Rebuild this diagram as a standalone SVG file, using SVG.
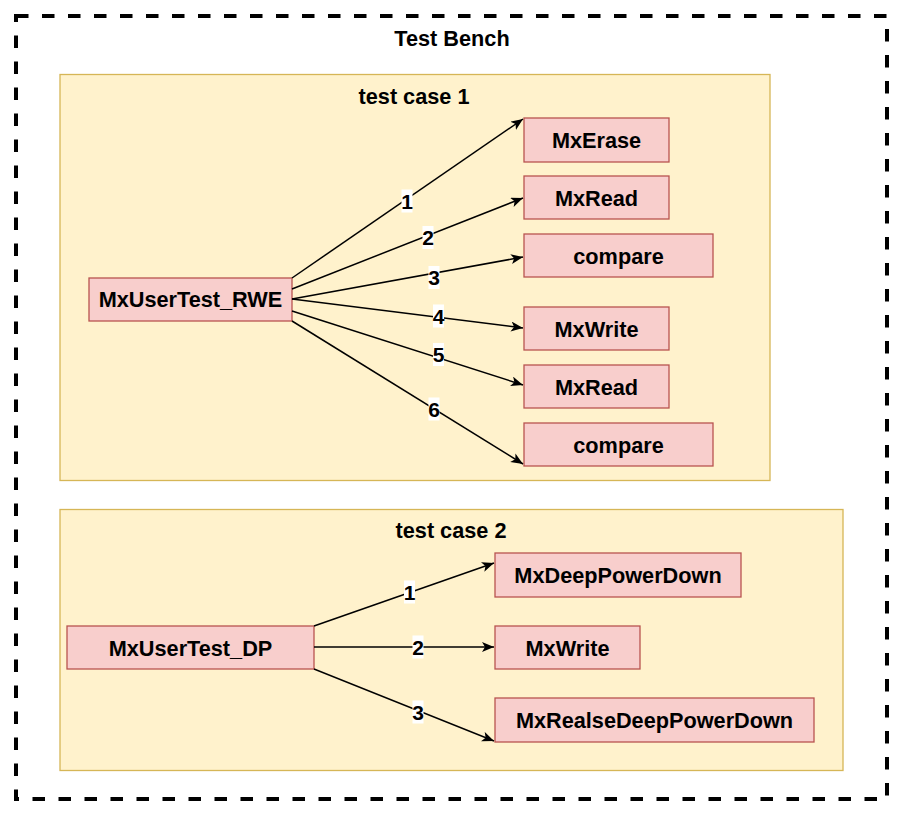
<svg xmlns="http://www.w3.org/2000/svg" width="904" height="817" viewBox="0 0 904 817">
<style>
text{font-family:"Liberation Sans",Arial,sans-serif;font-weight:bold;font-size:21.7px;fill:#000;text-anchor:middle}
.grp{fill:#fff2cc;stroke:#d6b656;stroke-width:1.3}
.node{fill:#f8cecc;stroke:#b85450;stroke-width:1.3}
.edge{fill:none;stroke:#000;stroke-width:1.5;marker-end:url(#arr)}
.lblbg{fill:#fff}
.lbl{font-size:21px}
</style>
<defs>
<marker id="arr" markerUnits="userSpaceOnUse" markerWidth="14" markerHeight="12" refX="12" refY="5" orient="auto">
<path d="M0,0 L12,5 L0,10 L3,5 Z" fill="#000"/>
</marker>
</defs>
<g id="bench">
<rect x="16" y="16" width="871" height="783" fill="none" stroke="#000" stroke-width="4" stroke-dasharray="12.5 13.5"/>
<text x="452" y="46">Test Bench</text>
</g>
<g id="tc1">
<rect class="grp" x="60" y="74.5" width="710" height="406"/>
<text x="414" y="104">test case 1</text>
</g>
<g id="tc2">
<rect class="grp" x="60" y="509.5" width="783" height="261"/>
<text x="451" y="538">test case 2</text>
</g>
<g id="rwe"><rect class="node" x="89" y="278" width="203" height="43"/><text x="190.5" y="306.5">MxUserTest_RWE</text></g>
<g id="erase"><rect class="node" x="524" y="118" width="145" height="44"/><text x="596.5" y="147.5">MxErase</text></g>
<g id="read1"><rect class="node" x="524" y="176" width="145" height="43"/><text x="596.5" y="205.5">MxRead</text></g>
<g id="cmp1"><rect class="node" x="524" y="234" width="189" height="43"/><text x="618.5" y="263.5">compare</text></g>
<g id="write1"><rect class="node" x="524" y="307" width="145" height="43"/><text x="596.5" y="336.5">MxWrite</text></g>
<g id="read2"><rect class="node" x="524" y="365" width="145" height="43"/><text x="596.5" y="394.5">MxRead</text></g>
<g id="cmp2"><rect class="node" x="524" y="423" width="189" height="43"/><text x="618.5" y="452.5">compare</text></g>
<g id="dp"><rect class="node" x="67" y="626" width="247" height="43"/><text x="190.5" y="655.5">MxUserTest_DP</text></g>
<g id="dpd"><rect class="node" x="495" y="553" width="246" height="44"/><text x="618" y="582.5">MxDeepPowerDown</text></g>
<g id="write2"><rect class="node" x="495" y="626" width="145" height="43"/><text x="567.5" y="655.5">MxWrite</text></g>
<g id="rdpd"><rect class="node" x="495" y="698" width="319" height="44"/><text x="654.5" y="727.5">MxRealseDeepPowerDown</text></g>
<g id="connectors">
<path class="edge" d="M292,278 L523,119"/>
<path class="edge" d="M292,289 L523,198"/>
<path class="edge" d="M292,299 L523,257"/>
<path class="edge" d="M292,299 L523,328"/>
<path class="edge" d="M292,311 L523,385"/>
<path class="edge" d="M292,321 L523,464"/>
<path class="edge" d="M314,626 L494,563"/>
<path class="edge" d="M314,647 L494,647"/>
<path class="edge" d="M314,669 L494,741"/>
<rect class="lblbg" x="401.5" y="189.5" width="11" height="23"/><text class="lbl" x="407" y="208.5">1</text>
<rect class="lblbg" x="422.5" y="226" width="11" height="23"/><text class="lbl" x="428" y="245">2</text>
<rect class="lblbg" x="428.5" y="266" width="11" height="23"/><text class="lbl" x="434" y="285">3</text>
<rect class="lblbg" x="433" y="304.5" width="11" height="23"/><text class="lbl" x="438.5" y="323.5">4</text>
<rect class="lblbg" x="433" y="343" width="11" height="23"/><text class="lbl" x="438.5" y="362">5</text>
<rect class="lblbg" x="428.5" y="397.5" width="11" height="23"/><text class="lbl" x="434" y="416.5">6</text>
<rect class="lblbg" x="404" y="580.5" width="11" height="23"/><text class="lbl" x="409.5" y="599.5">1</text>
<rect class="lblbg" x="412.5" y="635.5" width="11" height="23"/><text class="lbl" x="418" y="654.5">2</text>
<rect class="lblbg" x="412.5" y="700.5" width="11" height="23"/><text class="lbl" x="418" y="719.5">3</text>
</g>
</svg>
